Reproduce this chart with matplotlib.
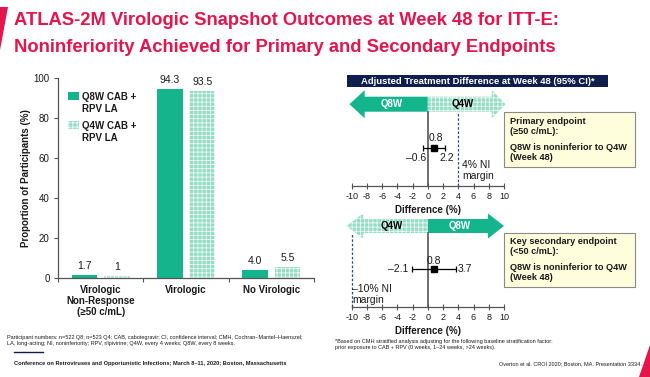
import numpy as np
import matplotlib
matplotlib.use("Agg")
import matplotlib.pyplot as plt
from matplotlib.patches import Rectangle, Polygon, FancyArrow

# ---------------- data ----------------
categories = ["Virologic\nNon-Response\n(\u226550 c/mL)", "Virologic", "No Virologic"]
q8w_values = [1.7, 94.3, 4.0]
q4w_values = [1.0, 93.5, 5.5]
q8w_labels = ["1.7", "94.3", "4.0"]
q4w_labels = ["1", "93.5", "5.5"]
series_names = ["Q8W CAB +\nRPV LA", "Q4W CAB +\nRPV LA"]
yticks = [0, 20, 40, 60, 80, 100]

diff_ticks = [-10, -8, -6, -4, -2, 0, 2, 4, 6, 8, 10]
primary_est, primary_lo, primary_hi = 0.8, -0.6, 2.2
secondary_est, secondary_lo, secondary_hi = 0.8, -2.1, 3.7
primary_margin = 4
secondary_margin = -10

W, H = 650, 377
GREEN = "#14B48C"
LIGHT = "#93DDC5"
RED = "#E3154B"
NAVY = "#0F1E4C"
TXT = "#1a1a1a"
FONT = ["Liberation Sans", "DejaVu Sans"]

plt.rcParams["font.family"] = FONT
plt.rcParams["hatch.linewidth"] = 0.5

fig = plt.figure(figsize=(W / 100, H / 100), dpi=100)
fig.patch.set_facecolor("white")


def fx(x):
    return x / W


def fy(y):
    return 1 - y / H


def rect_px(x0, y0, x1, y1, **kw):
    r = Rectangle((fx(x0), fy(y1)), fx(x1) - fx(x0), fy(y0) - fy(y1),
                  transform=fig.transFigure, **kw)
    fig.patches.append(r)
    return r


# ---------------- decorative shapes ----------------
fig.patches.append(Polygon([(fx(0), fy(7)), (fx(8), fy(7)), (fx(0), fy(50))],
                           closed=True, transform=fig.transFigure, facecolor=RED, edgecolor="none"))
fig.patches.append(Polygon([(fx(639), fy(377)), (fx(650), fy(345)), (fx(650), fy(377))],
                           closed=True, transform=fig.transFigure, facecolor=RED, edgecolor="none"))

# ---------------- title ----------------
fig.text(fx(14), fy(25), "ATLAS-2M Virologic Snapshot Outcomes at Week 48 for ITT-E:",
         fontsize=13.2, fontweight="bold", color=RED, va="baseline", ha="left")
fig.text(fx(14), fy(52), "Noninferiority Achieved for Primary and Secondary Endpoints",
         fontsize=13.2, fontweight="bold", color=RED, va="baseline", ha="left")

# ---------------- bar chart ----------------
ax = fig.add_axes([fx(58), fy(278), fx(314) - fx(58), fy(78) - fy(278)])
x = np.arange(len(categories)) + 0.5
off, bw = 0.19, 0.30
ax.bar(x - off, q8w_values, width=bw, color=GREEN, linewidth=0)
ax.bar(x + off, q4w_values, width=bw, facecolor=LIGHT, edgecolor="white",
       hatch="++++", linewidth=0)
for xi, v, lab in zip(x - off, q8w_values, q8w_labels):
    ax.annotate(lab, (xi, v), xytext=(0, 6.5), textcoords="offset points",
                ha="center", va="center", fontsize=7.5, color=TXT)
for xi, v, lab in zip(x + off, q4w_values, q4w_labels):
    ax.annotate(lab, (xi, v), xytext=(0, 6.5), textcoords="offset points",
                ha="center", va="center", fontsize=7.5, color=TXT)
ax.set_xlim(0, 3)
ax.set_ylim(0, 100)
ax.set_yticks(yticks)
ax.set_yticklabels([str(t) for t in yticks], fontsize=7, color=TXT)
ax.set_xticks(x)
ax.set_xticklabels(categories, fontsize=7, fontweight="bold", color=TXT, linespacing=1.15, va="top")
ax.set_xticks([0, 1, 2, 3], minor=True)
ax.tick_params(axis="x", which="major", length=0, pad=5)
ax.tick_params(axis="x", which="minor", length=3, direction="out", width=0.8, color="#555")
ax.tick_params(axis="y", length=3, direction="out", width=0.8, color="#555", pad=3)
for s in ["top", "right"]:
    ax.spines[s].set_visible(False)
for s in ["left", "bottom"]:
    ax.spines[s].set_color("#555")
    ax.spines[s].set_linewidth(0.9)
ax.set_ylabel("Proportion of Participants (%)", fontsize=7, fontweight="bold", color=TXT, labelpad=1.5)

# legend (manual)
rect_px(68, 92, 79, 100, facecolor=GREEN, edgecolor="none")
rect_px(68, 121, 79, 129, facecolor=LIGHT, edgecolor="white", hatch="++++", linewidth=0)
fig.text(fx(82), fy(92), series_names[0], fontsize=7, fontweight="bold", color=TXT,
         va="top", ha="left", linespacing=1.2)
fig.text(fx(82), fy(121), series_names[1], fontsize=7, fontweight="bold", color=TXT,
         va="top", ha="left", linespacing=1.2)

# ---------------- header ----------------
rect_px(347, 75, 608, 87, facecolor=NAVY, edgecolor="none")
fig.text(fx(477.5), fy(81.5), "Adjusted Treatment Difference at Week 48 (95% CI)*",
         fontsize=6.8, fontweight="bold", color="white", ha="center", va="center")


def forest(axf, ymax, yc, arrow_w, head_w, left_tip, left_hl, right_tip, right_hl,
           left_solid, est, lo, hi, margin, arrow_bottom):
    axf.set_xlim(-10, 10)
    axf.set_ylim(0, ymax)
    solid_kw = dict(facecolor=GREEN, edgecolor="none", linewidth=0)
    hatch_kw = dict(facecolor=LIGHT, edgecolor="white", hatch="++++", linewidth=0)
    lkw = solid_kw if left_solid else hatch_kw
    rkw = hatch_kw if left_solid else solid_kw
    a1 = FancyArrow(0, yc, left_tip, 0, width=arrow_w, head_width=head_w, head_length=left_hl,
                    length_includes_head=True, clip_on=False, **lkw)
    a2 = FancyArrow(0, yc, right_tip, 0, width=arrow_w, head_width=head_w, head_length=right_hl,
                    length_includes_head=True, clip_on=False, **rkw)
    axf.add_patch(a1)
    axf.add_patch(a2)
    axf.plot([0, 0], [0, arrow_bottom], color="#555555", lw=1.2, clip_on=False)
    axf.plot([margin, margin], [0, arrow_bottom], color="#2B4C7E", lw=0.9, ls=(0, (2, 1.5)),
             clip_on=False)
    axf.errorbar([est], [38], xerr=[[est - lo], [hi - est]], fmt="s", color="black",
                 ms=5, capsize=2.2, elinewidth=0.9, capthick=0.9, clip_on=False)
    axf.set_xticks(diff_ticks)
    axf.set_xticklabels([str(t) for t in diff_ticks], fontsize=6.5, color=TXT)
    axf.tick_params(axis="x", direction="inout", length=4, width=0.8, color="#555", pad=2)
    axf.set_yticks([])
    for s in ["top", "right", "left"]:
        axf.spines[s].set_visible(False)
    axf.spines["bottom"].set_color("#555")
    axf.spines["bottom"].set_linewidth(0.9)
    axf.set_xlabel("Difference (%)", fontsize=7, fontweight="bold", color=TXT, labelpad=3)
    axf.patch.set_alpha(0)


# top forest: data y = 186 - py
ax2 = fig.add_axes([fx(351.7), fy(186), fx(504) - fx(351.7), fy(88) - fy(186)])
forest(ax2, 98, 81.8, 15, 28, -10.3, 2.0, 10.2, 1.8, True,
       primary_est, primary_lo, primary_hi, primary_margin, 74.3)
ax2.text(-4.7, 81.8, "Q8W", color="white", fontsize=7, fontweight="bold", ha="center", va="center")
ax2.text(4.6, 81.8, "Q4W", color="black", fontsize=7, fontweight="bold", ha="center", va="center")
ax2.text(1.0, 48, f"{primary_est}", fontsize=7.5, ha="center", va="center", color=TXT)
ax2.text(-0.25, 28, f"\u2013{abs(primary_lo)}", fontsize=7.5, ha="right", va="center", color=TXT)
ax2.text(2.5, 28, f"{primary_hi}", fontsize=7.5, ha="center", va="center", color=TXT)
ax2.text(4.5, 21, "4% NI", fontsize=7.5, ha="left", va="center", color=TXT)
ax2.text(4.5, 10, "margin", fontsize=7.5, ha="left", va="center", color=TXT)

# bottom forest: data y = 307 - py
ax3 = fig.add_axes([fx(351.7), fy(307), fx(504) - fx(351.7), fy(208) - fy(307)])
forest(ax3, 99, 81, 14, 25, -10.7, 2.2, 10.0, 2.1, False,
       secondary_est, secondary_lo, secondary_hi, secondary_margin, 74)
ax3.text(-4.7, 81, "Q4W", color="black", fontsize=7, fontweight="bold", ha="center", va="center")
ax3.text(4.2, 81, "Q8W", color="white", fontsize=7, fontweight="bold", ha="center", va="center")
ax3.text(0.8, 46, f"{secondary_est}", fontsize=7.5, ha="center", va="center", color=TXT)
ax3.text(-2.6, 38, f"\u2013{abs(secondary_lo)}", fontsize=7.5, ha="right", va="center", color=TXT)
ax3.text(3.9, 38, f"{secondary_hi}", fontsize=7.5, ha="left", va="center", color=TXT)
ax3.text(-9.9, 18, "\u201310% NI", fontsize=7.5, ha="left", va="center", color=TXT)
ax3.text(-9.9, 7, "margin", fontsize=7.5, ha="left", va="center", color=TXT)

# ---------------- text boxes ----------------
BOXF = "#FFFEDC"
rect_px(504, 112, 635, 167, facecolor=BOXF, edgecolor="#8a8a8a", linewidth=0.8)
for yy, s in zip([121.7, 131.5, 147, 157],
                 ["Primary endpoint", "(\u226550 c/mL):", "Q8W is noninferior to Q4W", "(Week 48)"]):
    fig.text(fx(510), fy(yy), s, fontsize=6.6, fontweight="bold", color=TXT, ha="left", va="center")
rect_px(504, 233, 635, 287, facecolor=BOXF, edgecolor="#8a8a8a", linewidth=0.8)
for yy, s in zip([242, 252, 267, 277],
                 ["Key secondary endpoint", "(<50 c/mL):", "Q8W is noninferior to Q4W", "(Week 48)"]):
    fig.text(fx(510), fy(yy), s, fontsize=6.6, fontweight="bold", color=TXT, ha="left", va="center")

# ---------------- footnotes ----------------
fig.text(fx(7), fy(337), "Participant numbers: n=522 Q8; n=523 Q4; CAB, cabotegravir; CI, confidence interval; "
         "CMH, Cochran\u2013Mantel\u2013Haenszel;", fontsize=4, color=TXT, ha="left", va="center")
fig.text(fx(7), fy(344), "LA, long-acting; NI, noninferiority; RPV, rilpivirine; Q4W, every 4 weeks; "
         "Q8W, every 8 weeks.", fontsize=4, color=TXT, ha="left", va="center")
fig.add_artist(plt.Line2D([fx(14), fx(43)], [fy(352), fy(352)], color=NAVY, lw=1.0,
                          transform=fig.transFigure))
fig.text(fx(14), fy(364), "Conference on Retroviruses and Opportunistic Infections; March 8\u201311, 2020; "
         "Boston, Massachusetts", fontsize=4.1, fontweight="bold", color=TXT, ha="left", va="center")
fig.text(fx(335), fy(341), "*Based on CMH stratified analysis adjusting for the following baseline "
         "stratification factor:", fontsize=4, color=TXT, ha="left", va="center")
fig.text(fx(335), fy(348), "prior exposure to CAB + RPV (0 weeks, 1\u201324 weeks, >24 weeks).",
         fontsize=4, color=TXT, ha="left", va="center")
fig.text(fx(642), fy(364), "Overton et al. CROI 2020; Boston, MA. Presentation 3334.",
         fontsize=4, color=TXT, ha="right", va="center")

fig.savefig("out.png", dpi=100, facecolor="white")
